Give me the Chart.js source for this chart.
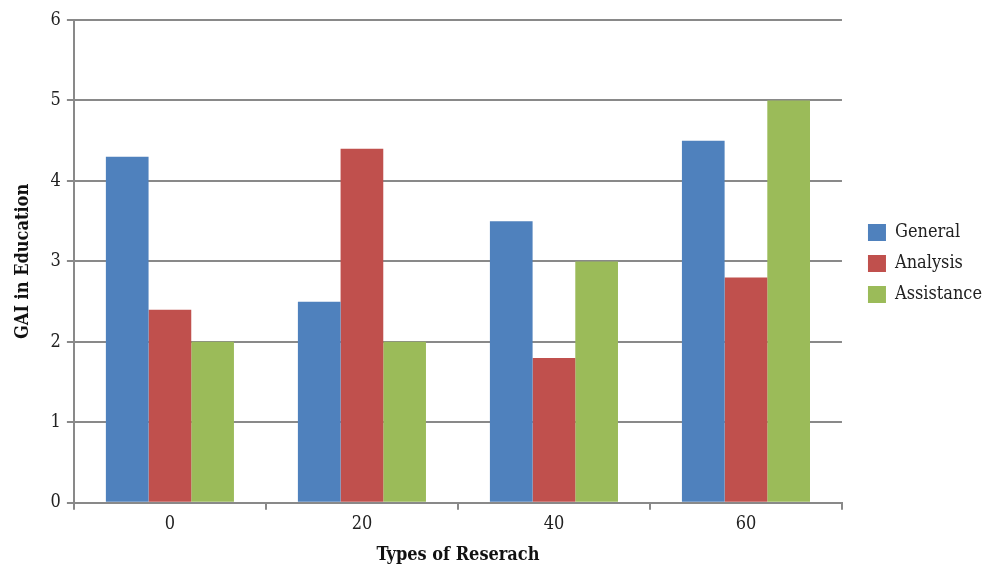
<!DOCTYPE html>
<html>
<head>
<meta charset="utf-8">
<script src="https://cdn.jsdelivr.net/npm/chart.js@4.4.1/dist/chart.umd.min.js"></script>
<style>
  html, body { margin: 0; padding: 0; background: #fff; }
  #wrap { width: 994px; height: 566px; }
</style>
</head>
<body>
<div id="wrap"><canvas id="chart" width="994" height="566"></canvas></div>
<script>
// chart data
const categories = ['0', '20', '40', '60'];
const general = [4.3, 2.5, 3.5, 4.5];
const analysis = [2.4, 4.4, 1.8, 2.8];
const assistance = [2.0, 2.0, 3.0, 5.0];
const yTicks = [0, 1, 2, 3, 4, 5, 6];

const fontFamily = '"DejaVu Serif Condensed", "Liberation Serif", serif';
const gridColor = '#898989';

Chart.defaults.font.family = fontFamily;
Chart.defaults.color = '#222';

// leave a wider gap between the plot and the legend
const legendGap = {
  id: 'legendGap',
  beforeLayout(chart) {
    const lg = chart.legend;
    if (lg && !lg._gapPatched) {
      const origFit = lg.fit.bind(lg);
      lg.fit = function () {
        origFit();
        this.width += 14;
      };
      lg._gapPatched = true;
    }
  },
  afterLayout(chart) {
    const lg = chart.legend;
    if (lg) {
      lg.left += 13;
      lg.right += 13;
      lg.top += 2;
      lg.bottom += 2;
    }
  },
};

const ctx = document.getElementById('chart').getContext('2d');
new Chart(ctx, {
  type: 'bar',
  data: {
    labels: categories,
    datasets: [
      { label: 'General', data: general, backgroundColor: '#4f81bd' },
      { label: 'Analysis', data: analysis, backgroundColor: '#c0504d' },
      { label: 'Assistance', data: assistance, backgroundColor: '#9bbb59' },
    ],
  },
  plugins: [legendGap],
  options: {
    responsive: false,
    animation: false,
    categoryPercentage: 0.667,
    barPercentage: 1.0,
    layout: { padding: { top: 20, right: 1, left: 9, bottom: 0 } },
    plugins: {
      legend: {
        position: 'right',
        align: 'center',
        fullSize: false,
        labels: {
          boxWidth: 18,
          boxHeight: 17,
          padding: 13,
          font: { size: 18 },
          color: '#222',
        },
      },
      tooltip: { enabled: false },
    },
    scales: {
      x: {
        grid: {
          offset: true,
          drawOnChartArea: false,
          drawTicks: true,
          tickLength: 7,
          color: gridColor,
          lineWidth: 2,
        },
        border: { color: gridColor, width: 2 },
        ticks: { font: { size: 18 }, color: '#222', padding: 4 },
        title: {
          display: true,
          text: 'Types of Reserach',
          font: { size: 18, weight: 'bold' },
          color: '#111',
          padding: { top: 5, bottom: 0 },
        },
      },
      y: {
        min: 0,
        max: 6,
        afterBuildTicks: (axis) => {
          axis.ticks = yTicks.map((v) => ({ value: v }));
        },
        grid: {
          color: gridColor,
          lineWidth: 2,
          tickLength: 7,
        },
        border: { color: gridColor, width: 2 },
        ticks: { font: { size: 18 }, color: '#222', padding: 6 },
        title: {
          display: true,
          text: 'GAI in Education',
          font: { size: 18, weight: 'bold' },
          color: '#111',
          padding: { bottom: 10 },
        },
      },
    },
  },
});
</script>
</body>
</html>
